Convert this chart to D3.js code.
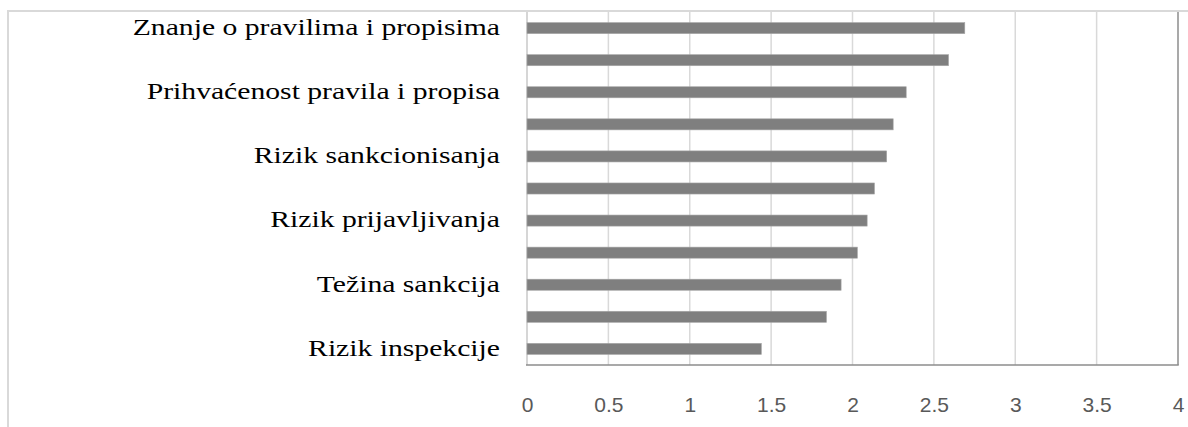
<!DOCTYPE html>
<html>
<head>
<meta charset="utf-8">
<script src="https://cdn.jsdelivr.net/npm/d3@7"></script>
<style>
  html, body { margin: 0; padding: 0; background: #fff; }
  svg { display: block; }
</style>
</head>
<body>
<svg id="chart" width="1188" height="427"></svg>
<script>
// Data (top to bottom); only every other category label is shown in the reference
const categories = [
  "Znanje o pravilima i propisima", "",
  "Prihvaćenost pravila i propisa", "",
  "Rizik sankcionisanja", "",
  "Rizik prijavljivanja", "",
  "Težina sankcija", "",
  "Rizik inspekcije"
];
const values = [2.69, 2.59, 2.33, 2.25, 2.21, 2.135, 2.09, 2.03, 1.93, 1.84, 1.44];
const xTicks = [0, 0.5, 1, 1.5, 2, 2.5, 3, 3.5, 4];
const xTickLabels = ["0", "0.5", "1", "1.5", "2", "2.5", "3", "3.5", "4"];

const svg = d3.select("#chart");
const W = 1188, H = 427;
const plot = { left: 527, right: 1178, top: 12, bottom: 365 };

// outer chart border (top and left visible)
svg.append("line").attr("x1", 8).attr("x2", W).attr("y1", 11).attr("y2", 11)
  .attr("stroke", "#d9d9d9").attr("stroke-width", 2);
svg.append("line").attr("x1", 8).attr("x2", 8).attr("y1", 10).attr("y2", H)
  .attr("stroke", "#d9d9d9").attr("stroke-width", 2);

const x = d3.scaleLinear().domain([0, 4]).range([plot.left, plot.right]);
const idx = categories.map((d, i) => i);
const y = d3.scaleBand().domain(idx).range([plot.top, plot.bottom]).paddingInner(0.655).paddingOuter(0.33);

// gridlines
svg.append("g").selectAll("line").data(xTicks.filter(t => t > 0 && t < 4)).join("line")
  .attr("x1", d => x(d)).attr("x2", d => x(d))
  .attr("y1", plot.top).attr("y2", plot.bottom)
  .attr("stroke", "#d9d9d9").attr("stroke-width", 1.5);

// left axis line
svg.append("line").attr("x1", x(0)).attr("x2", x(0)).attr("y1", plot.top).attr("y2", plot.bottom)
  .attr("stroke", "#c8c8c8").attr("stroke-width", 1.5);
// right frame line
svg.append("line").attr("x1", x(4)).attr("x2", x(4)).attr("y1", plot.top).attr("y2", plot.bottom)
  .attr("stroke", "#8c8c8c").attr("stroke-width", 1.5);
// bottom axis line
svg.append("line").attr("x1", x(0) - 1).attr("x2", x(4) + 0.75).attr("y1", plot.bottom).attr("y2", plot.bottom)
  .attr("stroke", "#8c8c8c").attr("stroke-width", 1.5);

// bars
svg.append("g").selectAll("rect").data(values).join("rect")
  .attr("x", x(0))
  .attr("y", (d, i) => y(i))
  .attr("width", d => x(d) - x(0))
  .attr("height", y.bandwidth())
  .attr("fill", "#7f7f7f")
  .attr("stroke", "#a6a6a6").attr("stroke-width", 0.6);

// x tick labels
const xAxis = d3.axisBottom(x).tickValues(xTicks).tickFormat((d, i) => xTickLabels[i]).tickSize(0).tickPadding(0);
const gx = svg.append("g").attr("transform", `translate(0,${plot.bottom})`).call(xAxis);
gx.select(".domain").remove();
gx.selectAll("text")
  .attr("y", 47).attr("dy", 0)
  .attr("font-family", "'Liberation Sans Narrow', 'Liberation Sans', sans-serif")
  .attr("font-size", 21)
  .attr("fill", "#595959");

// category labels (reference text is horizontally stretched)
const yAxis = d3.axisLeft(y).tickFormat(i => categories[i]).tickSize(0).tickPadding(0);
const gy = svg.append("g").attr("transform", `translate(500,0)`).call(yAxis);
gy.select(".domain").remove();
gy.selectAll("text")
  .attr("x", 0).attr("dy", "0.3em")
  .attr("transform", "scale(1.29,1)")
  .attr("font-family", "'Liberation Serif', 'Times New Roman', serif")
  .attr("font-size", 23)
  .attr("fill", "#000");
</script>
</body>
</html>
